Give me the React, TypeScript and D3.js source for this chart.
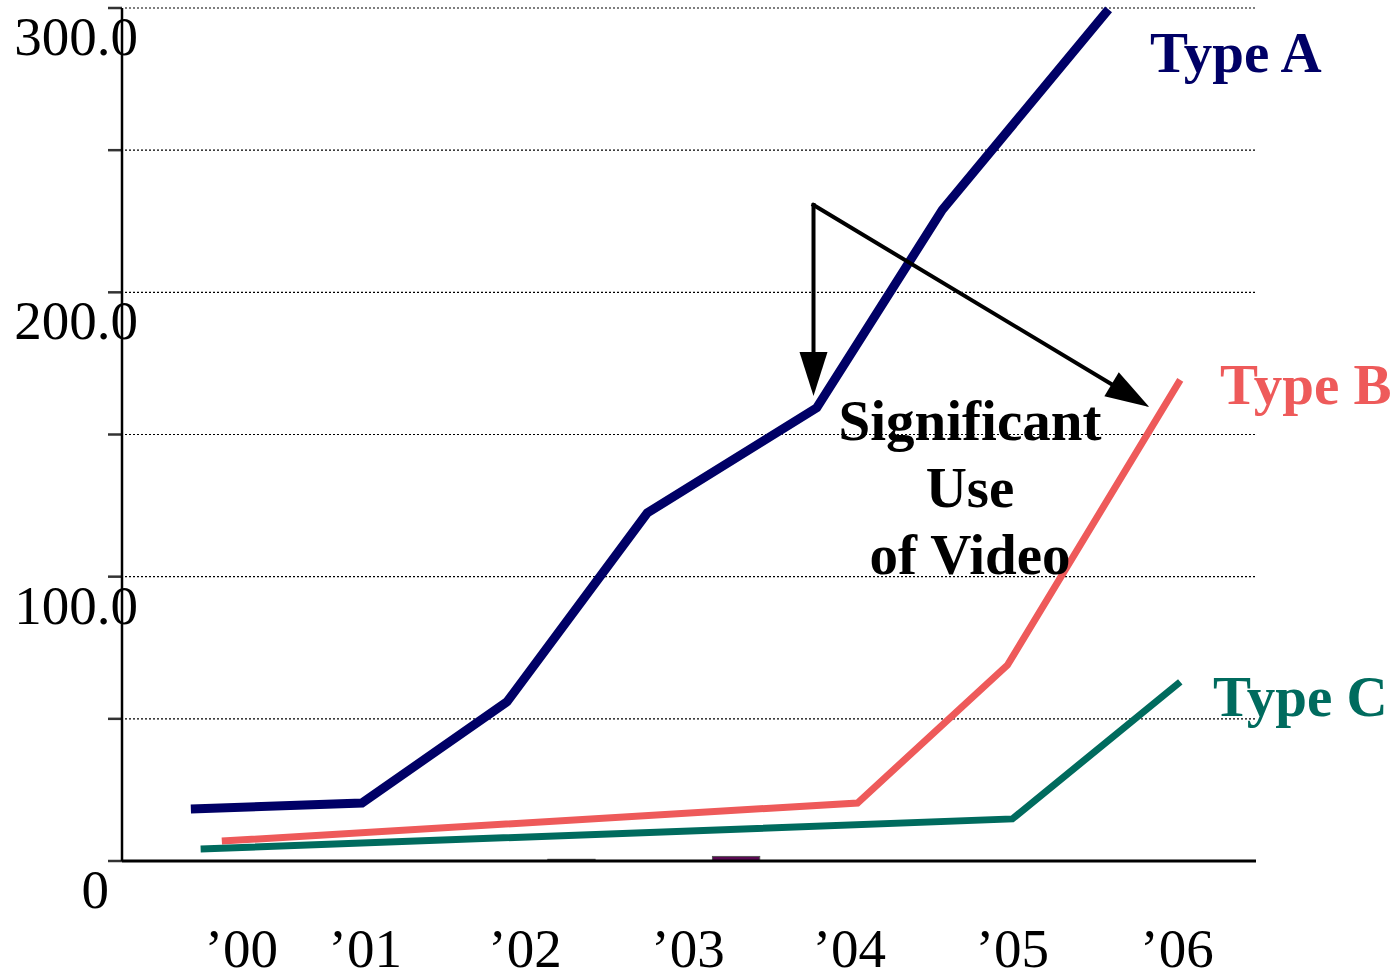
import React from "react";
import * as d3 from "d3";

// Series values: [year, value]
const typeA: [number, number][] = [
  [1999.95, 18.3],
  [2001.0, 20.4],
  [2001.89, 56.0],
  [2002.75, 122.4],
  [2003.79, 159.4],
  [2004.56, 229.0],
  [2005.58, 299.5],
];
const typeB: [number, number][] = [
  [2000.14, 7.0],
  [2004.04, 20.4],
  [2004.96, 68.9],
  [2006.02, 169.2],
];
const typeC: [number, number][] = [
  [2000.01, 4.2],
  [2004.99, 14.8],
  [2006.02, 63.0],
];

// Tiny near-zero bars sitting on the baseline
const baseBars = [
  { from: 2002.14, to: 2002.43, value: 0.6, color: "#1a1a1a" },
  { from: 2003.15, to: 2003.44, value: 1.6, color: "#5a0a52" },
];

const xTickValues = [2000.26, 2001.02, 2002.0, 2003.0, 2003.99, 2004.99, 2006.0];
const xTickLabels = ["\u201900", "\u201901", "\u201902", "\u201903", "\u201904", "\u201905", "\u201906"];
const yGridValues = [50, 100, 150, 200, 250, 300];
const yTickValues = [0, 50, 100, 150, 200, 250, 300];
const yLabelValues = [0, 100, 200, 300];
const yLabelTexts = ["0", "100.0", "200.0", "300.0"];

const seriesNames = ["Type A", "Type B", "Type C"];
const seriesColors = ["#000066", "#ee5a5a", "#006b5e"];

// Annotation: arrow origin and the two arrow tips, in data units
const arrowOrigin: [number, number] = [2003.77, 230.7];
const arrowTips: [number, number][] = [
  [2003.77, 163.5],
  [2005.83, 159.7],
];
const noteLines = ["Significant", "Use", "of Video"];
const noteAnchor: [number, number] = [2004.73, 150];

const W = 1395;
const H = 977;
const FONT = "'Liberation Serif', 'Times New Roman', Times, serif";

export default function App() {
  const x = d3.scaleLinear().domain([2001, 2006]).range([362, 1177]);
  const y = d3.scaleLinear().domain([0, 300]).range([861, 8]);
  const left = 122;
  const right = 1256;

  const line = d3
    .line<[number, number]>()
    .x((d) => x(d[0]))
    .y((d) => y(d[1]));

  const series = [typeA, typeB, typeC];
  const widths = [9, 7, 7];

  // series label placement (left x, baseline y)
  const labelPos: [number, number][] = [
    [1150, 72],
    [1220, 404],
    [1213, 716],
  ];

  const arrowHead = (tip: [number, number], from: [number, number]) => {
    const tx = x(tip[0]);
    const ty = y(tip[1]);
    const fx = x(from[0]);
    const fy = y(from[1]);
    const ang = Math.atan2(ty - fy, tx - fx);
    const len = 44;
    const half = 14;
    const bx = tx - len * Math.cos(ang);
    const by = ty - len * Math.sin(ang);
    const px = -Math.sin(ang) * half;
    const py = Math.cos(ang) * half;
    return {
      path: `M${tx},${ty}L${bx + px},${by + py}L${bx - px},${by - py}Z`,
      bx,
      by,
    };
  };

  return (
    <div style={{ position: "absolute", left: 0, top: 0 }}>
      <svg width={W} height={H} viewBox={`0 0 ${W} ${H}`} style={{ display: "block", background: "#fff" }}>
        {/* dotted gridlines */}
        {yGridValues.map((v) => (
          <line
            key={`g${v}`}
            x1={left + 3}
            x2={right}
            y1={y(v)}
            y2={y(v)}
            stroke="#000"
            strokeWidth={1.2}
            strokeDasharray="2 2"
          />
        ))}

        {/* y tick marks */}
        {yTickValues.map((v) => (
          <line key={`t${v}`} x1={108} x2={left} y1={y(v)} y2={y(v)} stroke="#333" strokeWidth={2.5} />
        ))}

        {/* baseline bars */}
        {baseBars.map((b, i) => (
          <rect
            key={`b${i}`}
            x={x(b.from)}
            y={y(b.value)}
            width={x(b.to) - x(b.from)}
            height={y(0) - y(b.value)}
            fill={b.color}
            stroke="#555"
            strokeWidth={1}
          />
        ))}

        {/* axes */}
        <line x1={left} x2={left} y1={y(300)} y2={y(0)} stroke="#000" strokeWidth={2.5} />
        <line x1={left} x2={right} y1={y(0)} y2={y(0)} stroke="#000" strokeWidth={3} />

        {/* y labels */}
        {yLabelValues.map((v, i) => (
          <text
            key={`yl${v}`}
            x={v === 0 ? 109 : 138}
            y={y(v) + 47}
            textAnchor="end"
            fontFamily={FONT}
            fontSize={55}
            fill="#000"
          >
            {yLabelTexts[i]}
          </text>
        ))}

        {/* x labels */}
        {xTickValues.map((v, i) => (
          <text
            key={`xl${i}`}
            x={x(v)}
            y={967}
            textAnchor="middle"
            fontFamily={FONT}
            fontSize={55}
            fill="#000"
          >
            {xTickLabels[i]}
          </text>
        ))}

        {/* series lines */}
        {series.map((s, i) => (
          <path
            key={`s${i}`}
            d={line(s) ?? ""}
            fill="none"
            stroke={seriesColors[i]}
            strokeWidth={widths[i]}
            strokeLinecap="butt"
            strokeLinejoin="miter"
          />
        ))}

        {/* annotation arrows */}
        {arrowTips.map((tip, i) => {
          const h = arrowHead(tip, arrowOrigin);
          return (
            <g key={`a${i}`}>
              <line
                x1={x(arrowOrigin[0])}
                y1={y(arrowOrigin[1])}
                x2={h.bx}
                y2={h.by}
                stroke="#000"
                strokeWidth={4}
                strokeLinecap="square"
              />
              <path d={h.path} fill="#000" />
            </g>
          );
        })}

        {/* annotation text */}
        <text
          x={x(noteAnchor[0])}
          y={440}
          textAnchor="middle"
          fontFamily={FONT}
          fontWeight="bold"
          fontSize={57}
          fill="#000"
        >
          {noteLines.map((t, i) => (
            <tspan key={t} x={x(noteAnchor[0])} dy={i === 0 ? 0 : 67}>
              {t}
            </tspan>
          ))}
        </text>

        {/* series labels */}
        {seriesNames.map((n, i) => (
          <text
            key={n}
            x={labelPos[i][0]}
            y={labelPos[i][1]}
            fontFamily={FONT}
            fontWeight="bold"
            fontSize={57}
            fill={seriesColors[i]}
          >
            {n}
          </text>
        ))}
      </svg>
    </div>
  );
}
